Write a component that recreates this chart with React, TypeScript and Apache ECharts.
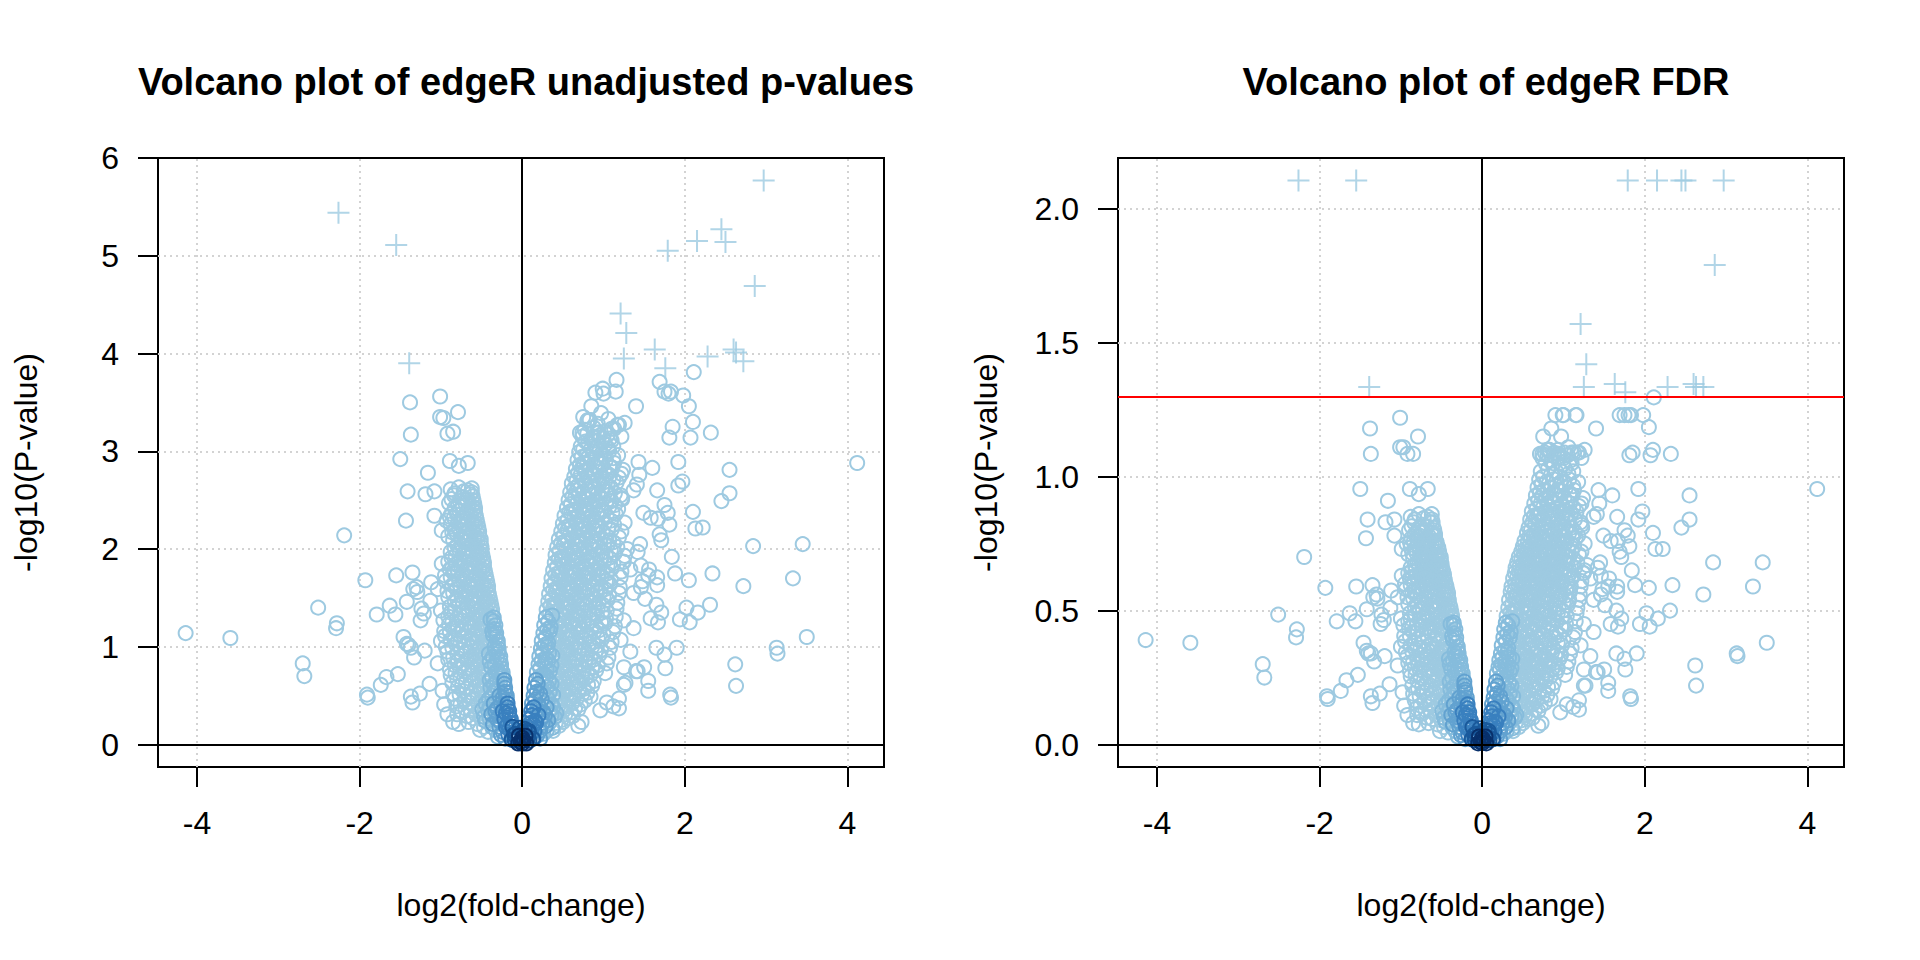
import React, { useEffect, useRef } from 'react';
import * as echarts from 'echarts';

// every gene is [log2 fold-change, -log10(p-value), -log10(FDR)]
type Gene = [number, number, number];

const xTicks = [-4, -2, 0, 2, 4];
const pTicks = [0, 1, 2, 3, 4, 5, 6];
const fdrTicks = [0, 0.5, 1, 1.5, 2];
const fdrCutoff = 1.3; // -log10(0.05)

// genes with FDR < 0.05, drawn as crosses
const sigGenes: Gene[] = [
  [-2.26, 5.44, 2.106], [-1.55, 5.11, 2.106], [-1.39, 3.9, 1.335], [2.97, 5.77, 2.106],
  [2.45, 5.27, 2.106], [2.5, 5.14, 2.106], [2.15, 5.15, 2.106], [1.79, 5.05, 2.106],
  [2.86, 4.69, 1.79], [1.21, 4.41, 1.57], [1.28, 4.21, 1.42], [1.25, 3.95, 1.335],
  [1.63, 4.04, 1.346], [1.76, 3.85, 1.315], [2.28, 3.97, 1.335], [2.6, 4.04, 1.346],
  [2.63, 4.01, 1.335], [2.72, 3.92, 1.335],
];

// scattered genes away from the two dense clouds
const outlierGenes: Gene[] = [
  [-1.38, 3.5, 1.18], [-1.01, 3.56, 1.22], [-1.01, 3.35, 1.11], [-0.97, 3.34, 1.11], [-0.79, 3.4, 1.15],
  [-0.92, 3.18, 1.085], [-0.85, 3.2, 1.085], [-1.37, 3.17, 1.085], [-1.5, 2.92, 0.954], [-0.89, 2.9, 0.954],
  [-0.78, 2.85, 0.935], [-0.67, 2.88, 0.954], [-1.16, 2.78, 0.91], [-1.41, 2.59, 0.84], [-1.19, 2.56, 0.83],
  [-1.08, 2.59, 0.84], [-1.43, 2.29, 0.77], [-1.08, 2.34, 0.78], [-0.99, 2.19, 0.73], [-2.19, 2.14, 0.7],
  [-1.93, 1.68, 0.585], [-1.55, 1.73, 0.59], [-1.35, 1.76, 0.595], [-0.99, 1.85, 0.63], [-2.51, 1.4, 0.485],
  [-2.28, 1.24, 0.43], [-2.29, 1.19, 0.4], [-1.79, 1.33, 0.46], [-1.63, 1.42, 0.49], [-1.56, 1.33, 0.46],
  [-4.14, 1.14, 0.39], [-3.59, 1.09, 0.38], [-2.7, 0.83, 0.3], [-2.68, 0.7, 0.25], [-1.46, 1.1, 0.38],
  [-1.4, 1.02, 0.34], [-1.33, 0.89, 0.31], [-1.2, 0.96, 0.33], [-1.25, 1.27, 0.45], [-1.34, 1.59, 0.55],
  [-1.91, 0.51, 0.18], [-1.9, 0.48, 0.17], [-1.74, 0.61, 0.2], [-1.67, 0.69, 0.24], [-1.53, 0.72, 0.26],
  [-1.37, 0.49, 0.18], [-1.35, 0.43, 0.155], [-1.26, 0.52, 0.19], [-1.14, 0.62, 0.225], [-1.13, 1.47, 0.51],
  [-1.0, 1.37, 0.47], [-1.12, 1.66, 0.575], [-1.04, 1.59, 0.55], [-1.29, 1.56, 0.545], [-1.3, 1.61, 0.56],
  [-1.24, 1.39, 0.485], [-1.21, 1.34, 0.465], [-1.42, 1.46, 0.505], [-1.42, 1.03, 0.35], [-1.37, 0.99, 0.34],
  [-1.04, 0.83, 0.295], [-0.96, 0.41, 0.145], [-0.92, 0.31, 0.11], [-0.85, 0.23, 0.08], [-0.98, 0.55, 0.195],
  [-1.0, 1.06, 0.365],
  [2.11, 3.81, 1.296], [1.16, 3.73, 1.23], [0.99, 3.64, 1.23], [1.15, 3.61, 1.23], [0.85, 3.46, 1.18],
  [0.97, 3.39, 1.15], [1.4, 3.46, 1.18], [1.69, 3.71, 1.23], [1.75, 3.61, 1.23], [1.8, 3.59, 1.23],
  [1.83, 3.61, 1.23], [1.98, 3.57, 1.23], [2.05, 3.46, 1.185], [2.1, 3.3, 1.1], [2.07, 3.14, 1.08],
  [2.32, 3.19, 1.085], [1.85, 3.25, 1.09], [1.81, 3.14, 1.08], [0.83, 3.32, 1.1], [0.74, 3.19, 1.085],
  [1.1, 3.23, 1.09], [1.17, 3.27, 1.09], [1.26, 3.29, 1.1], [4.12, 2.88, 0.954], [2.55, 2.81, 0.93],
  [2.55, 2.57, 0.84], [2.45, 2.49, 0.81], [1.92, 2.89, 0.954], [1.97, 2.69, 0.87], [1.92, 2.65, 0.84],
  [1.6, 2.83, 0.93], [1.43, 2.89, 0.95], [1.44, 2.76, 0.9], [1.22, 2.77, 0.9], [1.66, 2.6, 0.85],
  [1.41, 2.66, 0.86], [1.37, 2.6, 0.85], [1.21, 2.55, 0.83], [1.23, 2.51, 0.81], [2.1, 2.38, 0.79],
  [2.13, 2.21, 0.73], [2.22, 2.22, 0.73], [1.75, 2.45, 0.8], [1.79, 2.37, 0.78], [1.81, 2.25, 0.74],
  [1.49, 2.37, 0.78], [1.58, 2.32, 0.76], [1.67, 2.31, 0.76], [2.84, 2.03, 0.68], [3.45, 2.05, 0.68],
  [3.33, 1.7, 0.59], [2.72, 1.62, 0.56], [2.34, 1.75, 0.595], [2.05, 1.68, 0.585], [1.88, 1.75, 0.595],
  [1.84, 1.92, 0.65], [2.31, 1.43, 0.5], [2.16, 1.35, 0.47], [2.06, 1.25, 0.44], [2.02, 1.4, 0.49],
  [1.94, 1.28, 0.45], [3.5, 1.1, 0.38], [3.13, 0.99, 0.34], [3.14, 0.93, 0.33], [2.62, 0.82, 0.295],
  [2.63, 0.6, 0.22], [1.9, 0.99, 0.34], [1.75, 0.92, 0.32], [1.76, 0.78, 0.28], [1.82, 0.51, 0.18],
  [1.83, 0.48, 0.17], [1.55, 0.65, 0.23], [1.55, 0.55, 0.2], [1.71, 1.35, 0.47], [1.67, 1.25, 0.44],
  [1.58, 1.29, 0.45], [1.48, 1.67, 0.58], [1.66, 1.63, 0.57], [1.66, 1.71, 0.59], [1.55, 1.73, 0.59],
  [1.71, 2.09, 0.7], [1.69, 2.15, 0.72], [1.45, 2.05, 0.68], [1.42, 1.97, 0.66], [1.12, 0.39, 0.14],
  [1.19, 0.37, 0.13], [1.42, 0.75, 0.27], [1.27, 0.63, 0.22], [0.73, 0.23, 0.08], [0.69, 0.19, 0.07],
  [1.25, 1.87, 0.64], [1.33, 1.79, 0.62], [1.46, 1.83, 0.63], [1.56, 1.79, 0.62], [1.37, 1.55, 0.54],
  [1.46, 1.61, 0.56], [1.51, 1.49, 0.52], [1.65, 1.43, 0.5], [1.25, 1.27, 0.45], [1.37, 1.19, 0.42],
  [1.21, 1.07, 0.37], [1.33, 0.95, 0.33], [1.25, 0.79, 0.28], [1.4, 0.75, 0.27], [1.25, 0.61, 0.22],
  [1.19, 0.47, 0.165], [1.04, 0.43, 0.15], [0.96, 0.35, 0.12], [1.5, 0.79, 0.28], [1.65, 0.99, 0.34],
  [0.9, 3.6, 1.23], [1.0, 3.59, 1.23], [0.75, 3.35, 1.15], [0.81, 3.32, 1.1], [0.71, 3.19, 1.085],
  [0.88, 3.14, 1.08], [0.94, 3.19, 1.085], [1.0, 3.13, 1.07],
];

// body of the cloud of down-regulated genes (low density)
const leftCloud: Gene[] = [
  [-0.62, 2.62, 0.86], [-0.67, 2.6, 0.85], [-0.78, 2.63, 0.86], [-0.88, 2.61, 0.85],
  [-0.61, 2.54, 0.83], [-0.64, 2.56, 0.83], [-0.73, 2.53, 0.82], [-0.84, 2.55, 0.83],
  [-0.59, 2.46, 0.8], [-0.62, 2.44, 0.79], [-0.7, 2.47, 0.8], [-0.79, 2.45, 0.8], [-0.9, 2.47, 0.8],
  [-0.58, 2.38, 0.78], [-0.61, 2.4, 0.78], [-0.69, 2.37, 0.77], [-0.77, 2.39, 0.78], [-0.87, 2.36, 0.77],
  [-0.56, 2.3, 0.755], [-0.59, 2.28, 0.75], [-0.67, 2.31, 0.76], [-0.75, 2.29, 0.75], [-0.84, 2.32, 0.76], [-0.93, 2.29, 0.75],
  [-0.54, 2.22, 0.735], [-0.58, 2.24, 0.74], [-0.66, 2.21, 0.73], [-0.74, 2.23, 0.74], [-0.83, 2.2, 0.73],
  [-0.53, 2.14, 0.71], [-0.56, 2.12, 0.705], [-0.64, 2.15, 0.715], [-0.72, 2.13, 0.71], [-0.81, 2.16, 0.715], [-0.91, 2.13, 0.71],
  [-0.51, 2.06, 0.69], [-0.55, 2.08, 0.69], [-0.63, 2.05, 0.685], [-0.71, 2.07, 0.69], [-0.8, 2.04, 0.68],
  [-0.5, 1.98, 0.665], [-0.53, 1.96, 0.66], [-0.61, 1.99, 0.67], [-0.69, 1.97, 0.66], [-0.78, 2.0, 0.67], [-0.88, 1.97, 0.66],
  [-0.48, 1.9, 0.645], [-0.52, 1.92, 0.65], [-0.6, 1.89, 0.64], [-0.68, 1.91, 0.645], [-0.77, 1.88, 0.64], [-0.87, 1.91, 0.645],
  [-0.47, 1.82, 0.625], [-0.5, 1.8, 0.62], [-0.58, 1.83, 0.63], [-0.67, 1.81, 0.625], [-0.76, 1.84, 0.63], [-0.86, 1.81, 0.625],
  [-0.45, 1.74, 0.6], [-0.49, 1.76, 0.61], [-0.57, 1.73, 0.6], [-0.65, 1.75, 0.605], [-0.74, 1.72, 0.6], [-0.84, 1.75, 0.605], [-0.95, 1.73, 0.6],
  [-0.43, 1.66, 0.575], [-0.47, 1.64, 0.57], [-0.55, 1.67, 0.58], [-0.64, 1.65, 0.575], [-0.73, 1.68, 0.58], [-0.83, 1.65, 0.575], [-0.94, 1.67, 0.58],
  [-0.42, 1.58, 0.55], [-0.45, 1.6, 0.56], [-0.54, 1.57, 0.55], [-0.62, 1.59, 0.555], [-0.71, 1.56, 0.545], [-0.81, 1.59, 0.555], [-0.92, 1.57, 0.55],
  [-0.4, 1.5, 0.52], [-0.44, 1.48, 0.515], [-0.52, 1.51, 0.525], [-0.61, 1.49, 0.52], [-0.7, 1.52, 0.525], [-0.8, 1.49, 0.52], [-0.91, 1.51, 0.525],
  [-0.38, 1.42, 0.495], [-0.42, 1.44, 0.5], [-0.51, 1.41, 0.49], [-0.59, 1.43, 0.5], [-0.68, 1.4, 0.49], [-0.78, 1.43, 0.5], [-0.89, 1.41, 0.49],
  [-0.37, 1.34, 0.47], [-0.41, 1.32, 0.46], [-0.49, 1.35, 0.47], [-0.58, 1.33, 0.465], [-0.67, 1.36, 0.475], [-0.77, 1.33, 0.465], [-0.88, 1.35, 0.47],
  [-0.48, 1.25, 0.44], [-0.56, 1.27, 0.445], [-0.65, 1.24, 0.435], [-0.75, 1.27, 0.445], [-0.86, 1.25, 0.44], [-0.97, 1.27, 0.445],
  [-0.46, 1.19, 0.42], [-0.55, 1.17, 0.41], [-0.64, 1.2, 0.42], [-0.74, 1.17, 0.41], [-0.85, 1.19, 0.42], [-0.96, 1.16, 0.405],
  [-0.44, 1.09, 0.38], [-0.53, 1.11, 0.385], [-0.62, 1.08, 0.375], [-0.72, 1.11, 0.385], [-0.83, 1.09, 0.38], [-0.95, 1.11, 0.385],
  [-0.43, 1.03, 0.355], [-0.52, 1.01, 0.35], [-0.61, 1.04, 0.36], [-0.71, 1.01, 0.35], [-0.82, 1.03, 0.355], [-0.94, 1.0, 0.345],
  [-0.5, 0.95, 0.33], [-0.59, 0.92, 0.32], [-0.69, 0.95, 0.33], [-0.8, 0.93, 0.32], [-0.92, 0.95, 0.33],
  [-0.49, 0.87, 0.305], [-0.58, 0.84, 0.295], [-0.68, 0.87, 0.305], [-0.79, 0.85, 0.3], [-0.91, 0.87, 0.305],
  [-0.47, 0.77, 0.275], [-0.56, 0.8, 0.285], [-0.66, 0.77, 0.275], [-0.77, 0.79, 0.28], [-0.89, 0.77, 0.275],
  [-0.46, 0.71, 0.255], [-0.55, 0.68, 0.245], [-0.65, 0.71, 0.255], [-0.76, 0.69, 0.25], [-0.88, 0.71, 0.255],
  [-0.44, 0.63, 0.22], [-0.53, 0.6, 0.21], [-0.63, 0.63, 0.22], [-0.74, 0.61, 0.215], [-0.86, 0.63, 0.22],
  [-0.43, 0.53, 0.19], [-0.52, 0.56, 0.2], [-0.62, 0.53, 0.19], [-0.73, 0.55, 0.195], [-0.85, 0.52, 0.19],
  [-0.5, 0.44, 0.155], [-0.6, 0.47, 0.165], [-0.71, 0.45, 0.16], [-0.83, 0.47, 0.165],
  [-0.59, 0.39, 0.135], [-0.7, 0.37, 0.13], [-0.81, 0.39, 0.135],
  [-0.57, 0.31, 0.11], [-0.68, 0.29, 0.1], [-0.8, 0.31, 0.11],
  [-0.55, 0.21, 0.075], [-0.66, 0.23, 0.08], [-0.78, 0.21, 0.075],
  [-0.42, 0.13, 0.045], [-0.52, 0.15, 0.05],
];

// denser middle of the down-regulated cloud
const leftCloudInner: Gene[] = [
  [-0.62, 2.58, 0.84], [-0.72, 2.59, 0.845], [-0.83, 2.57, 0.84],
  [-0.6, 2.5, 0.81], [-0.68, 2.51, 0.815], [-0.77, 2.49, 0.81], [-0.87, 2.51, 0.815],
  [-0.58, 2.42, 0.785], [-0.66, 2.41, 0.78], [-0.74, 2.43, 0.79], [-0.83, 2.42, 0.785],
  [-0.57, 2.34, 0.76], [-0.64, 2.35, 0.765], [-0.72, 2.33, 0.755], [-0.8, 2.35, 0.765], [-0.89, 2.33, 0.755],
  [-0.55, 2.26, 0.74], [-0.62, 2.27, 0.745], [-0.7, 2.25, 0.735], [-0.79, 2.27, 0.745], [-0.88, 2.25, 0.735],
  [-0.53, 2.18, 0.72], [-0.61, 2.19, 0.725], [-0.69, 2.17, 0.715], [-0.77, 2.19, 0.725], [-0.86, 2.17, 0.715],
  [-0.51, 2.1, 0.7], [-0.59, 2.11, 0.705], [-0.67, 2.09, 0.695], [-0.76, 2.11, 0.705], [-0.85, 2.09, 0.695],
  [-0.5, 2.02, 0.675], [-0.58, 2.03, 0.68], [-0.66, 2.01, 0.67], [-0.74, 2.03, 0.68], [-0.83, 2.01, 0.67],
  [-0.49, 1.94, 0.655], [-0.56, 1.95, 0.66], [-0.64, 1.93, 0.65], [-0.73, 1.95, 0.66], [-0.82, 1.93, 0.65],
  [-0.47, 1.86, 0.635], [-0.55, 1.87, 0.64], [-0.63, 1.85, 0.63], [-0.72, 1.87, 0.64], [-0.81, 1.85, 0.63], [-0.91, 1.87, 0.64],
  [-0.46, 1.78, 0.615], [-0.53, 1.79, 0.62], [-0.61, 1.77, 0.61], [-0.7, 1.79, 0.62], [-0.79, 1.77, 0.61], [-0.89, 1.79, 0.62],
  [-0.44, 1.7, 0.59], [-0.52, 1.71, 0.595], [-0.6, 1.69, 0.585], [-0.69, 1.71, 0.595], [-0.78, 1.69, 0.585], [-0.88, 1.71, 0.595],
  [-0.42, 1.62, 0.565], [-0.5, 1.63, 0.57], [-0.58, 1.61, 0.56], [-0.67, 1.63, 0.57], [-0.76, 1.61, 0.56], [-0.86, 1.63, 0.57],
  [-0.41, 1.54, 0.54], [-0.48, 1.55, 0.545], [-0.57, 1.53, 0.535], [-0.66, 1.55, 0.545], [-0.75, 1.53, 0.535], [-0.85, 1.55, 0.545],
  [-0.39, 1.46, 0.51], [-0.47, 1.47, 0.515], [-0.55, 1.45, 0.505], [-0.64, 1.47, 0.515], [-0.73, 1.45, 0.505], [-0.83, 1.47, 0.515],
  [-0.37, 1.38, 0.48], [-0.45, 1.39, 0.485], [-0.54, 1.37, 0.475], [-0.62, 1.39, 0.485], [-0.72, 1.37, 0.475], [-0.82, 1.39, 0.485],
  [-0.44, 1.3, 0.455], [-0.52, 1.31, 0.46], [-0.61, 1.29, 0.45], [-0.7, 1.31, 0.46], [-0.8, 1.29, 0.45], [-0.91, 1.31, 0.46],
  [-0.42, 1.22, 0.43], [-0.5, 1.23, 0.435], [-0.59, 1.21, 0.425], [-0.69, 1.23, 0.435], [-0.79, 1.21, 0.425], [-0.9, 1.23, 0.435],
  [-0.4, 1.14, 0.4], [-0.49, 1.15, 0.405], [-0.58, 1.13, 0.395], [-0.67, 1.15, 0.405], [-0.78, 1.13, 0.395], [-0.89, 1.15, 0.405],
  [-0.39, 1.06, 0.365], [-0.47, 1.07, 0.37], [-0.56, 1.05, 0.36], [-0.66, 1.07, 0.37], [-0.76, 1.05, 0.36], [-0.88, 1.07, 0.37],
  [-0.37, 0.98, 0.34], [-0.46, 0.99, 0.345], [-0.55, 0.97, 0.335], [-0.64, 0.99, 0.345], [-0.75, 0.97, 0.335], [-0.86, 0.99, 0.345],
  [-0.45, 0.9, 0.315], [-0.54, 0.91, 0.32], [-0.63, 0.89, 0.31], [-0.74, 0.91, 0.32], [-0.85, 0.89, 0.31],
  [-0.43, 0.82, 0.29], [-0.52, 0.83, 0.295], [-0.62, 0.81, 0.285], [-0.72, 0.83, 0.295], [-0.83, 0.81, 0.285],
  [-0.42, 0.74, 0.265], [-0.51, 0.75, 0.27], [-0.6, 0.73, 0.26], [-0.71, 0.75, 0.27], [-0.82, 0.73, 0.26],
  [-0.49, 0.66, 0.235], [-0.58, 0.67, 0.24], [-0.69, 0.65, 0.23], [-0.8, 0.67, 0.24],
  [-0.48, 0.58, 0.205], [-0.57, 0.59, 0.21], [-0.68, 0.57, 0.2], [-0.79, 0.59, 0.21],
  [-0.46, 0.5, 0.175], [-0.55, 0.51, 0.18], [-0.66, 0.49, 0.17], [-0.77, 0.51, 0.18],
  [-0.54, 0.42, 0.15], [-0.65, 0.43, 0.155], [-0.76, 0.41, 0.145],
  [-0.52, 0.34, 0.12], [-0.63, 0.35, 0.125], [-0.74, 0.33, 0.115],
  [-0.5, 0.26, 0.09], [-0.61, 0.27, 0.095], [-0.47, 0.18, 0.065],
];

// body of the cloud of up-regulated genes (low density)
const rightCloud: Gene[] = [
  [0.8, 3.31, 1.1], [0.93, 3.28, 1.1], [1.06, 3.33, 1.11], [1.19, 3.27, 1.09],
  [0.77, 3.22, 1.09], [0.88, 3.24, 1.09], [1.01, 3.2, 1.09], [1.13, 3.23, 1.09],
  [0.74, 3.15, 1.07], [0.85, 3.12, 1.06], [0.95, 3.16, 1.07], [1.08, 3.13, 1.06], [1.22, 3.15, 1.07],
  [0.72, 3.05, 1.02], [0.81, 3.08, 1.03], [0.91, 3.04, 1.02], [1.02, 3.07, 1.03], [1.12, 3.05, 1.02],
  [0.7, 2.99, 0.99], [0.79, 2.96, 0.98], [0.88, 3.0, 0.99], [0.97, 2.97, 0.98], [1.07, 3.0, 0.99], [1.18, 2.96, 0.98],
  [0.68, 2.91, 0.96], [0.76, 2.88, 0.95], [0.85, 2.92, 0.96], [0.94, 2.89, 0.95], [1.03, 2.91, 0.96], [1.13, 2.88, 0.95],
  [0.66, 2.82, 0.93], [0.74, 2.84, 0.93], [0.83, 2.81, 0.92], [0.92, 2.83, 0.93], [1.01, 2.8, 0.92], [1.11, 2.83, 0.93], [1.24, 2.81, 0.92],
  [0.64, 2.74, 0.9], [0.72, 2.76, 0.9], [0.8, 2.73, 0.89], [0.89, 2.75, 0.9], [0.98, 2.72, 0.89], [1.08, 2.75, 0.9], [1.19, 2.73, 0.89],
  [0.61, 2.67, 0.87], [0.69, 2.65, 0.86], [0.78, 2.68, 0.87], [0.86, 2.64, 0.86], [0.95, 2.67, 0.87], [1.05, 2.65, 0.86], [1.16, 2.68, 0.87],
  [0.59, 2.58, 0.84], [0.67, 2.6, 0.85], [0.75, 2.57, 0.84], [0.84, 2.59, 0.85], [0.93, 2.56, 0.83], [1.03, 2.59, 0.85], [1.14, 2.57, 0.84],
  [0.57, 2.5, 0.81], [0.65, 2.52, 0.82], [0.73, 2.49, 0.81], [0.81, 2.51, 0.81], [0.9, 2.48, 0.8], [0.99, 2.51, 0.81], [1.1, 2.49, 0.81], [1.22, 2.52, 0.82],
  [0.55, 2.42, 0.79], [0.63, 2.4, 0.78], [0.71, 2.43, 0.79], [0.79, 2.41, 0.78], [0.88, 2.44, 0.79], [0.97, 2.4, 0.78], [1.07, 2.43, 0.79], [1.18, 2.41, 0.78],
  [0.52, 2.34, 0.76], [0.6, 2.36, 0.77], [0.68, 2.33, 0.76], [0.77, 2.35, 0.76], [0.85, 2.32, 0.76], [0.94, 2.35, 0.76], [1.04, 2.33, 0.76], [1.15, 2.36, 0.77],
  [0.5, 2.26, 0.74], [0.58, 2.24, 0.74], [0.66, 2.27, 0.75], [0.74, 2.25, 0.74], [0.83, 2.28, 0.75], [0.92, 2.24, 0.74], [1.02, 2.27, 0.75], [1.13, 2.25, 0.74], [1.26, 2.27, 0.75],
  [0.48, 2.18, 0.72], [0.56, 2.2, 0.72], [0.64, 2.17, 0.72], [0.72, 2.19, 0.72], [0.81, 2.16, 0.71], [0.9, 2.19, 0.72], [0.99, 2.17, 0.72], [1.1, 2.2, 0.72], [1.22, 2.18, 0.72],
  [0.45, 2.1, 0.7], [0.53, 2.08, 0.69], [0.62, 2.11, 0.7], [0.7, 2.09, 0.7], [0.79, 2.12, 0.71], [0.88, 2.08, 0.69], [0.97, 2.11, 0.7], [1.07, 2.09, 0.7], [1.19, 2.12, 0.71],
  [0.43, 2.02, 0.68], [0.51, 2.04, 0.68], [0.6, 2.01, 0.67], [0.68, 2.03, 0.68], [0.77, 2.0, 0.67], [0.86, 2.03, 0.68], [0.95, 2.01, 0.67], [1.05, 2.04, 0.68], [1.17, 2.02, 0.68], [1.29, 2.0, 0.67],
  [0.41, 1.94, 0.66], [0.49, 1.92, 0.65], [0.57, 1.95, 0.66], [0.66, 1.93, 0.65], [0.75, 1.96, 0.66], [0.84, 1.92, 0.65], [0.93, 1.95, 0.66], [1.03, 1.93, 0.65], [1.14, 1.96, 0.66], [1.26, 1.93, 0.65],
  [0.4, 1.86, 0.64], [0.48, 1.88, 0.64], [0.56, 1.85, 0.63], [0.64, 1.87, 0.64], [0.73, 1.84, 0.63], [0.82, 1.87, 0.64], [0.91, 1.85, 0.63], [1.01, 1.88, 0.64], [1.12, 1.85, 0.63], [1.24, 1.87, 0.64],
  [0.38, 1.78, 0.62], [0.46, 1.76, 0.61], [0.54, 1.79, 0.62], [0.62, 1.77, 0.61], [0.71, 1.8, 0.62], [0.8, 1.76, 0.61], [0.89, 1.79, 0.62], [0.99, 1.77, 0.61], [1.1, 1.8, 0.62], [1.22, 1.77, 0.61],
  [0.36, 1.7, 0.59], [0.44, 1.72, 0.6], [0.52, 1.69, 0.59], [0.61, 1.71, 0.59], [0.7, 1.68, 0.58], [0.79, 1.71, 0.59], [0.88, 1.69, 0.59], [0.98, 1.72, 0.6], [1.09, 1.69, 0.59], [1.21, 1.71, 0.59],
  [0.35, 1.62, 0.57], [0.43, 1.6, 0.56], [0.51, 1.63, 0.57], [0.59, 1.61, 0.56], [0.68, 1.64, 0.57], [0.77, 1.6, 0.56], [0.87, 1.63, 0.57], [0.97, 1.61, 0.56], [1.08, 1.64, 0.57], [1.2, 1.61, 0.56],
  [0.33, 1.54, 0.54], [0.41, 1.56, 0.55], [0.49, 1.53, 0.54], [0.58, 1.55, 0.54], [0.67, 1.52, 0.53], [0.76, 1.55, 0.54], [0.86, 1.53, 0.54], [0.96, 1.56, 0.55], [1.07, 1.53, 0.54], [1.19, 1.55, 0.54],
  [0.32, 1.46, 0.51], [0.4, 1.44, 0.5], [0.48, 1.47, 0.51], [0.56, 1.45, 0.51], [0.65, 1.48, 0.52], [0.74, 1.44, 0.5], [0.84, 1.47, 0.51], [0.94, 1.45, 0.51], [1.05, 1.48, 0.52], [1.17, 1.45, 0.51],
  [0.3, 1.38, 0.48], [0.38, 1.4, 0.49], [0.46, 1.37, 0.48], [0.55, 1.39, 0.49], [0.64, 1.36, 0.48], [0.73, 1.39, 0.49], [0.83, 1.37, 0.48], [0.93, 1.4, 0.49], [1.04, 1.37, 0.48], [1.16, 1.39, 0.49],
  [0.45, 1.29, 0.45], [0.53, 1.31, 0.46], [0.62, 1.28, 0.45], [0.72, 1.31, 0.46], [0.82, 1.29, 0.45], [0.92, 1.32, 0.46], [1.03, 1.29, 0.45], [1.15, 1.31, 0.46],
  [0.43, 1.23, 0.43], [0.52, 1.21, 0.42], [0.61, 1.24, 0.43], [0.7, 1.2, 0.42], [0.8, 1.23, 0.43], [0.91, 1.21, 0.42], [1.02, 1.24, 0.43], [1.14, 1.21, 0.42],
  [0.42, 1.13, 0.39], [0.5, 1.15, 0.4], [0.59, 1.12, 0.39], [0.69, 1.15, 0.4], [0.79, 1.13, 0.39], [0.89, 1.16, 0.4], [1.0, 1.13, 0.39], [1.12, 1.15, 0.4],
  [0.4, 1.07, 0.37], [0.49, 1.05, 0.36], [0.58, 1.08, 0.37], [0.67, 1.04, 0.36], [0.77, 1.07, 0.37], [0.87, 1.05, 0.36], [0.98, 1.08, 0.37], [1.1, 1.05, 0.36],
  [0.39, 0.97, 0.335], [0.47, 0.99, 0.34], [0.56, 0.96, 0.33], [0.66, 0.99, 0.34], [0.76, 0.97, 0.335], [0.86, 1.0, 0.345], [0.97, 0.97, 0.335], [1.08, 0.99, 0.34],
  [0.46, 0.89, 0.31], [0.55, 0.92, 0.32], [0.64, 0.88, 0.31], [0.74, 0.91, 0.32], [0.84, 0.89, 0.31], [0.95, 0.92, 0.32], [1.06, 0.89, 0.31],
  [0.44, 0.83, 0.29], [0.53, 0.8, 0.285], [0.62, 0.83, 0.29], [0.72, 0.81, 0.285], [0.82, 0.84, 0.295], [0.93, 0.81, 0.285], [1.04, 0.83, 0.29],
  [0.43, 0.73, 0.26], [0.52, 0.76, 0.27], [0.61, 0.72, 0.26], [0.7, 0.75, 0.27], [0.8, 0.73, 0.26], [0.91, 0.76, 0.27], [1.02, 0.73, 0.26],
  [0.41, 0.67, 0.235], [0.5, 0.64, 0.225], [0.59, 0.67, 0.235], [0.68, 0.65, 0.23], [0.78, 0.68, 0.24], [0.88, 0.65, 0.23],
  [0.4, 0.57, 0.2], [0.48, 0.6, 0.21], [0.57, 0.56, 0.2], [0.66, 0.59, 0.21], [0.76, 0.57, 0.2], [0.86, 0.6, 0.21],
  [0.47, 0.48, 0.17], [0.55, 0.51, 0.18], [0.64, 0.49, 0.17], [0.74, 0.52, 0.18], [0.84, 0.49, 0.17],
  [0.45, 0.44, 0.155], [0.53, 0.4, 0.14], [0.62, 0.43, 0.15], [0.72, 0.41, 0.145],
  [0.51, 0.35, 0.12], [0.6, 0.33, 0.115], [0.69, 0.36, 0.125],
  [0.48, 0.25, 0.09], [0.57, 0.27, 0.095], [0.45, 0.19, 0.065],
];

// denser middle of the up-regulated cloud
const rightCloudInner: Gene[] = [
  [0.8, 3.18, 1.08], [0.92, 3.19, 1.085], [1.05, 3.17, 1.08],
  [0.78, 3.1, 1.05], [0.88, 3.11, 1.05], [0.99, 3.09, 1.045], [1.1, 3.11, 1.05],
  [0.75, 3.02, 1.0], [0.85, 3.03, 1.01], [0.95, 3.01, 1.0], [1.06, 3.03, 1.01],
  [0.73, 2.94, 0.97], [0.82, 2.95, 0.975], [0.91, 2.93, 0.965], [1.01, 2.95, 0.975], [1.12, 2.93, 0.965],
  [0.71, 2.86, 0.94], [0.8, 2.87, 0.945], [0.89, 2.85, 0.935], [0.98, 2.87, 0.945], [1.07, 2.85, 0.935],
  [0.69, 2.78, 0.91], [0.78, 2.79, 0.915], [0.87, 2.77, 0.905], [0.96, 2.79, 0.915], [1.05, 2.77, 0.905],
  [0.67, 2.7, 0.88], [0.75, 2.71, 0.885], [0.84, 2.69, 0.875], [0.93, 2.71, 0.885], [1.02, 2.69, 0.875], [1.12, 2.71, 0.885],
  [0.64, 2.62, 0.855], [0.72, 2.63, 0.86], [0.81, 2.61, 0.85], [0.9, 2.63, 0.86], [0.99, 2.61, 0.85], [1.09, 2.63, 0.86],
  [0.62, 2.54, 0.83], [0.7, 2.55, 0.835], [0.78, 2.53, 0.825], [0.87, 2.55, 0.835], [0.96, 2.53, 0.825], [1.06, 2.55, 0.835],
  [0.6, 2.46, 0.8], [0.68, 2.47, 0.805], [0.76, 2.45, 0.795], [0.85, 2.47, 0.805], [0.94, 2.45, 0.795], [1.03, 2.47, 0.805], [1.14, 2.45, 0.795],
  [0.58, 2.38, 0.775], [0.66, 2.39, 0.78], [0.74, 2.37, 0.77], [0.83, 2.39, 0.78], [0.92, 2.37, 0.77], [1.01, 2.39, 0.78], [1.11, 2.37, 0.77],
  [0.56, 2.3, 0.755], [0.64, 2.31, 0.76], [0.72, 2.29, 0.75], [0.81, 2.31, 0.76], [0.9, 2.29, 0.75], [0.99, 2.31, 0.76], [1.09, 2.29, 0.75],
  [0.53, 2.22, 0.73], [0.61, 2.23, 0.735], [0.7, 2.21, 0.725], [0.78, 2.23, 0.735], [0.87, 2.21, 0.725], [0.96, 2.23, 0.735], [1.06, 2.21, 0.725],
  [0.51, 2.14, 0.71], [0.59, 2.15, 0.715], [0.68, 2.13, 0.705], [0.76, 2.15, 0.715], [0.85, 2.13, 0.705], [0.94, 2.15, 0.715], [1.04, 2.13, 0.705],
  [0.48, 2.06, 0.69], [0.56, 2.07, 0.695], [0.65, 2.05, 0.685], [0.74, 2.07, 0.695], [0.83, 2.05, 0.685], [0.92, 2.07, 0.695], [1.01, 2.05, 0.685], [1.12, 2.07, 0.695],
  [0.46, 1.98, 0.665], [0.54, 1.99, 0.67], [0.63, 1.97, 0.66], [0.71, 1.99, 0.67], [0.8, 1.97, 0.66], [0.89, 1.99, 0.67], [0.99, 1.97, 0.66], [1.09, 1.99, 0.67],
  [0.45, 1.9, 0.645], [0.53, 1.91, 0.65], [0.61, 1.89, 0.64], [0.7, 1.91, 0.65], [0.79, 1.89, 0.64], [0.88, 1.91, 0.65], [0.97, 1.89, 0.64], [1.07, 1.91, 0.65],
  [0.43, 1.82, 0.625], [0.51, 1.83, 0.63], [0.59, 1.81, 0.62], [0.68, 1.83, 0.63], [0.77, 1.81, 0.62], [0.86, 1.83, 0.63], [0.95, 1.81, 0.62], [1.05, 1.83, 0.63],
  [0.41, 1.74, 0.6], [0.49, 1.75, 0.605], [0.57, 1.73, 0.595], [0.66, 1.75, 0.605], [0.75, 1.73, 0.595], [0.84, 1.75, 0.605], [0.94, 1.73, 0.595], [1.04, 1.75, 0.605],
  [0.4, 1.66, 0.575], [0.48, 1.67, 0.58], [0.56, 1.65, 0.57], [0.64, 1.67, 0.58], [0.73, 1.65, 0.57], [0.83, 1.67, 0.58], [0.93, 1.65, 0.57], [1.03, 1.67, 0.58],
  [0.38, 1.58, 0.55], [0.46, 1.59, 0.555], [0.54, 1.57, 0.545], [0.63, 1.59, 0.555], [0.72, 1.57, 0.545], [0.82, 1.59, 0.555], [0.92, 1.57, 0.545], [1.02, 1.59, 0.555],
  [0.37, 1.5, 0.525], [0.45, 1.51, 0.53], [0.53, 1.49, 0.52], [0.61, 1.51, 0.53], [0.71, 1.49, 0.52], [0.8, 1.51, 0.53], [0.9, 1.49, 0.52], [1.0, 1.51, 0.53],
  [0.35, 1.42, 0.495], [0.43, 1.43, 0.5], [0.51, 1.41, 0.49], [0.6, 1.43, 0.5], [0.69, 1.41, 0.49], [0.79, 1.43, 0.5], [0.89, 1.41, 0.49], [0.99, 1.43, 0.5],
  [0.34, 1.34, 0.47], [0.42, 1.35, 0.475], [0.5, 1.33, 0.465], [0.59, 1.35, 0.475], [0.68, 1.33, 0.465], [0.78, 1.35, 0.475], [0.88, 1.33, 0.465], [0.98, 1.35, 0.475],
  [0.41, 1.26, 0.445], [0.49, 1.27, 0.45], [0.58, 1.25, 0.44], [0.67, 1.27, 0.45], [0.76, 1.25, 0.44], [0.86, 1.27, 0.45], [0.97, 1.25, 0.44],
  [0.39, 1.18, 0.415], [0.47, 1.19, 0.42], [0.56, 1.17, 0.41], [0.65, 1.19, 0.42], [0.75, 1.17, 0.41], [0.85, 1.19, 0.42], [0.95, 1.17, 0.41],
  [0.37, 1.1, 0.385], [0.45, 1.11, 0.39], [0.54, 1.09, 0.38], [0.63, 1.11, 0.39], [0.73, 1.09, 0.38], [0.83, 1.11, 0.39], [0.93, 1.09, 0.38],
  [0.36, 1.02, 0.35], [0.44, 1.03, 0.355], [0.53, 1.01, 0.345], [0.62, 1.03, 0.355], [0.72, 1.01, 0.345], [0.82, 1.03, 0.355], [0.92, 1.01, 0.345],
  [0.42, 0.94, 0.325], [0.51, 0.95, 0.33], [0.6, 0.93, 0.32], [0.7, 0.95, 0.33], [0.8, 0.93, 0.32], [0.9, 0.95, 0.33],
  [0.4, 0.86, 0.3], [0.49, 0.87, 0.305], [0.58, 0.85, 0.295], [0.68, 0.87, 0.305], [0.78, 0.85, 0.295], [0.88, 0.87, 0.305],
  [0.39, 0.78, 0.28], [0.48, 0.79, 0.285], [0.57, 0.77, 0.275], [0.66, 0.79, 0.285], [0.76, 0.77, 0.275], [0.86, 0.79, 0.285],
  [0.38, 0.7, 0.25], [0.47, 0.71, 0.255], [0.56, 0.69, 0.245], [0.65, 0.71, 0.255], [0.74, 0.69, 0.245], [0.84, 0.71, 0.255],
  [0.44, 0.62, 0.22], [0.53, 0.63, 0.225], [0.62, 0.61, 0.215], [0.71, 0.63, 0.225], [0.81, 0.61, 0.215],
  [0.43, 0.54, 0.19], [0.51, 0.55, 0.195], [0.6, 0.53, 0.185], [0.7, 0.55, 0.195], [0.8, 0.53, 0.185],
  [0.41, 0.46, 0.16], [0.49, 0.47, 0.165], [0.58, 0.45, 0.155], [0.67, 0.47, 0.165], [0.77, 0.45, 0.155],
  [0.47, 0.38, 0.135], [0.56, 0.39, 0.14], [0.65, 0.37, 0.13],
  [0.44, 0.3, 0.105], [0.53, 0.31, 0.11], [0.62, 0.29, 0.1],
  [0.41, 0.22, 0.08], [0.5, 0.23, 0.08], [0.38, 0.14, 0.05],
];

// genes along the inner edges of the V, by increasing point density
const midBand: Gene[] = [
  [0.29, 1.3, 0.455], [0.37, 1.32, 0.46], [0.27, 1.22, 0.43], [0.35, 1.2, 0.42], [0.26, 1.14, 0.4], [0.34, 1.16, 0.4],
  [0.24, 1.06, 0.37], [0.32, 1.04, 0.36], [0.23, 0.98, 0.34], [0.31, 1.0, 0.345], [0.21, 0.9, 0.315], [0.29, 0.88, 0.31],
  [0.37, 0.91, 0.32], [0.2, 0.82, 0.29], [0.28, 0.84, 0.295], [0.36, 0.81, 0.285], [0.18, 0.74, 0.265], [0.26, 0.72, 0.26],
  [0.34, 0.75, 0.27], [0.25, 0.68, 0.24], [0.33, 0.65, 0.23], [0.23, 0.56, 0.2], [0.31, 0.59, 0.21], [0.3, 0.49, 0.17],
  [0.38, 0.51, 0.18], [0.28, 0.43, 0.15], [0.36, 0.41, 0.145], [0.34, 0.35, 0.12], [0.42, 0.32, 0.11], [0.4, 0.28, 0.1],
  [0.37, 0.17, 0.06], [0.26, 0.11, 0.04],
  [0.32, 1.26, 0.445], [0.31, 1.18, 0.415], [0.29, 1.1, 0.385], [0.28, 1.02, 0.35], [0.25, 0.94, 0.325], [0.33, 0.94, 0.325],
  [0.24, 0.86, 0.3], [0.32, 0.86, 0.3], [0.22, 0.78, 0.28], [0.3, 0.78, 0.28], [0.22, 0.7, 0.25], [0.3, 0.7, 0.25],
  [0.27, 0.62, 0.22], [0.36, 0.62, 0.22], [0.26, 0.54, 0.19], [0.34, 0.54, 0.19], [0.32, 0.46, 0.16], [0.38, 0.38, 0.135],
  [0.36, 0.3, 0.105], [0.33, 0.22, 0.08], [0.3, 0.14, 0.05],
  [-0.35, 1.26, 0.445], [-0.39, 1.28, 0.45], [-0.34, 1.18, 0.415], [-0.37, 1.16, 0.405], [-0.32, 1.1, 0.38], [-0.36, 1.12, 0.39],
  [-0.3, 1.02, 0.35], [-0.34, 1.0, 0.345], [-0.29, 0.94, 0.325], [-0.33, 0.96, 0.33], [-0.41, 0.93, 0.32], [-0.27, 0.86, 0.3],
  [-0.31, 0.88, 0.31], [-0.4, 0.85, 0.3], [-0.26, 0.78, 0.28], [-0.3, 0.76, 0.275], [-0.38, 0.79, 0.28], [-0.24, 0.7, 0.25],
  [-0.28, 0.72, 0.26], [-0.37, 0.69, 0.25], [-0.27, 0.64, 0.225], [-0.35, 0.61, 0.215], [-0.25, 0.52, 0.19], [-0.34, 0.55, 0.195],
  [-0.32, 0.45, 0.16], [-0.41, 0.47, 0.165], [-0.4, 0.39, 0.135], [-0.49, 0.36, 0.125], [-0.47, 0.28, 0.1], [-0.45, 0.24, 0.085],
  [-0.33, 0.15, 0.05], [-0.3, 0.08, 0.03],
  [-0.35, 1.3, 0.455], [-0.33, 1.22, 0.43], [-0.32, 1.14, 0.4], [-0.3, 1.06, 0.365], [-0.29, 0.98, 0.34], [-0.27, 0.9, 0.315],
  [-0.36, 0.9, 0.315], [-0.26, 0.82, 0.29], [-0.34, 0.82, 0.29], [-0.24, 0.74, 0.265], [-0.33, 0.74, 0.265], [-0.31, 0.66, 0.235],
  [-0.4, 0.66, 0.235], [-0.3, 0.58, 0.205], [-0.39, 0.58, 0.205], [-0.37, 0.5, 0.175], [-0.45, 0.42, 0.15], [-0.42, 0.34, 0.12],
  [-0.4, 0.26, 0.09], [-0.37, 0.18, 0.065],
];

const blueBand: Gene[] = [
  [0.17, 0.66, 0.235], [0.15, 0.58, 0.205], [0.14, 0.5, 0.175], [0.22, 0.52, 0.18], [0.12, 0.42, 0.15], [0.2, 0.4, 0.14],
  [0.18, 0.36, 0.125], [0.26, 0.33, 0.115], [0.24, 0.27, 0.095], [0.32, 0.25, 0.09], [0.21, 0.17, 0.06], [0.29, 0.19, 0.065],
  [0.18, 0.09, 0.03], [0.19, 0.62, 0.22], [0.18, 0.54, 0.19], [0.16, 0.46, 0.16], [0.24, 0.46, 0.16], [0.22, 0.38, 0.135],
  [0.3, 0.38, 0.135], [0.28, 0.3, 0.105], [0.25, 0.22, 0.08], [0.22, 0.14, 0.05], [0.22, 0.06, 0.02],
  [-0.22, 0.62, 0.22], [-0.21, 0.54, 0.195], [-0.19, 0.46, 0.16], [-0.24, 0.48, 0.17], [-0.22, 0.4, 0.14], [-0.31, 0.37, 0.13],
  [-0.29, 0.29, 0.1], [-0.38, 0.31, 0.11], [-0.27, 0.23, 0.08], [-0.36, 0.21, 0.075], [-0.24, 0.13, 0.045], [-0.21, 0.06, 0.02],
  [-0.22, 0.66, 0.235], [-0.21, 0.58, 0.205], [-0.19, 0.5, 0.175], [-0.28, 0.5, 0.175], [-0.26, 0.42, 0.15], [-0.35, 0.42, 0.15],
  [-0.33, 0.34, 0.12], [-0.31, 0.26, 0.09], [-0.28, 0.18, 0.065], [-0.26, 0.1, 0.035],
];

const deepBand: Gene[] = [
  [0.11, 0.34, 0.12], [0.09, 0.26, 0.09], [0.16, 0.24, 0.085], [0.07, 0.18, 0.065], [0.14, 0.2, 0.07], [0.05, 0.1, 0.035],
  [0.11, 0.12, 0.04], [0.14, 0.38, 0.135], [0.12, 0.3, 0.105], [0.2, 0.3, 0.105], [0.1, 0.22, 0.08], [0.17, 0.22, 0.08],
  [0.15, 0.14, 0.05], [0.14, 0.06, 0.02],
  [-0.18, 0.38, 0.135], [-0.16, 0.3, 0.105], [-0.2, 0.32, 0.11], [-0.14, 0.22, 0.08], [-0.18, 0.2, 0.07], [-0.08, 0.14, 0.05],
  [-0.16, 0.16, 0.055], [-0.06, 0.07, 0.025], [-0.13, 0.08, 0.03], [-0.18, 0.42, 0.15], [-0.16, 0.34, 0.12], [-0.24, 0.34, 0.12],
  [-0.14, 0.26, 0.09], [-0.22, 0.26, 0.09], [-0.2, 0.18, 0.065], [-0.17, 0.1, 0.035],
];

const navyGenes: Gene[] = [
  [0.0, 0.13, 0.045], [0.05, 0.06, 0.02], [-0.05, 0.06, 0.02], [0.09, 0.04, 0.015], [-0.09, 0.04, 0.015], [0.03, 0.16, 0.055],
  [-0.03, 0.17, 0.06], [0.08, 0.12, 0.04], [-0.08, 0.11, 0.04], [0.13, 0.06, 0.02], [-0.13, 0.05, 0.02], [0.08, 0.14, 0.05],
  [0.07, 0.06, 0.02], [-0.12, 0.18, 0.065], [-0.1, 0.1, 0.035],
];

const coreGenes: Gene[] = [
  [0.0, 0.01, 0.005], [0.02, 0.04, 0.015], [-0.02, 0.03, 0.01], [0.05, 0.01, 0.004], [-0.05, 0.01, 0.004], [0.0, 0.07, 0.025],
  [0.04, 0.09, 0.03], [-0.04, 0.09, 0.03],
];

const FONT = '"Liberation Sans", Arial, Helvetica, sans-serif';
const PALE = '#9ecae1';

const panels = [
  { title: 'Volcano plot of edgeR unadjusted p-values', left: 158, yMin: -0.23, yMax: 6.0, ticks: pTicks, digits: 0, cutoff: false },
  { title: 'Volcano plot of edgeR FDR', left: 1118, yMin: -0.084, yMax: 2.19, ticks: fdrTicks, digits: 1, cutoff: true },
];

// density colours, light to dark, as in the Blues ramp
const layers: { genes: Gene[]; color: string }[] = [
  { genes: outlierGenes, color: PALE },
  { genes: leftCloud, color: PALE },
  { genes: rightCloud, color: PALE },
  { genes: leftCloudInner, color: PALE },
  { genes: rightCloudInner, color: PALE },
  { genes: midBand, color: '#86bcdc' },
  { genes: blueBand, color: '#62a2d0' },
  { genes: deepBand, color: '#3a80bf' },
  { genes: navyGenes, color: '#1a5a9c' },
  { genes: coreGenes, color: '#08306b' },
];

const pick = (genes: Gene[], k: number) => genes.map((g) => [g[0], g[k + 1]]);

const App: React.FC = () => {
  const chartRef = useRef<HTMLDivElement>(null);

  useEffect(() => {
    if (!chartRef.current) return;
    const chart = echarts.init(chartRef.current, undefined, { renderer: 'svg' });

    const textStyle = { fontSize: 32, fontFamily: FONT, color: '#000' };
    const series: any[] = [];

    panels.forEach((p, k) => {
      layers.forEach((layer, li) => {
        series.push({
          type: 'scatter',
          xAxisIndex: k,
          yAxisIndex: k,
          data: pick(layer.genes, k),
          symbol: 'circle',
          symbolSize: 14,
          silent: true,
          large: false,
          progressive: 0,
          z: 2,
          itemStyle: { color: 'rgba(0,0,0,0)', borderColor: layer.color, borderWidth: 2, opacity: 1 },
          // grid() lines sit under the points and under the box
          markLine: li === 0 ? {
            silent: true,
            symbol: 'none',
            z: 1,
            label: { show: false },
            lineStyle: { color: '#d3d3d3', type: [2, 4], width: 2 },
            data: [
              ...xTicks.map((v) => ({ xAxis: v })),
              ...p.ticks.filter((v) => v < p.yMax - 1e-6).map((v) => ({ yAxis: v })),
            ],
          } : undefined,
        });
      });
      series.push({
        type: 'scatter',
        xAxisIndex: k,
        yAxisIndex: k,
        data: pick(sigGenes, k),
        symbol: 'path://M0,10L20,10M10,0L10,20',
        symbolSize: 22,
        silent: true,
        z: 3,
        itemStyle: { color: 'rgba(0,0,0,0)', borderColor: PALE, borderWidth: 2 },
        markLine: {
          silent: true,
          symbol: 'none',
          z: 6,
          label: { show: false },
          lineStyle: { color: '#000', type: 'solid', width: 2 },
          data: [
            { xAxis: 0 },
            { yAxis: 0 },
            ...(p.cutoff ? [{ yAxis: fdrCutoff, lineStyle: { color: '#ff0000', width: 2, type: 'solid' } }] : []),
          ],
        },
      });
    });

    const option: any = {
      animation: false,
      backgroundColor: '#fff',
      title: panels.map((p) => ({
        text: p.title,
        left: p.left + 363,
        top: 58,
        textAlign: 'center',
        textStyle: { fontSize: 38, fontWeight: 'bold', fontFamily: FONT, color: '#000' },
      })),
      grid: panels.map((p) => ({
        left: p.left,
        top: 158,
        width: 726,
        height: 609,
        show: true,
        borderColor: '#000',
        borderWidth: 2,
        backgroundColor: 'transparent',
      })),
      xAxis: panels.map((p, k) => ({
        gridIndex: k,
        type: 'value',
        min: -4.48,
        max: 4.45,
        axisLine: { show: false, onZero: false },
        splitLine: { show: false },
        axisTick: { show: true, customValues: xTicks, length: 20, lineStyle: { color: '#000', width: 2 } },
        axisLabel: { customValues: xTicks, margin: 40, ...textStyle },
        name: 'log2(fold-change)',
        nameLocation: 'middle',
        nameGap: 122,
        nameTextStyle: textStyle,
      })),
      yAxis: panels.map((p, k) => ({
        gridIndex: k,
        type: 'value',
        min: p.yMin,
        max: p.yMax,
        axisLine: { show: false, onZero: false },
        splitLine: { show: false },
        axisTick: { show: true, customValues: p.ticks, length: 20, lineStyle: { color: '#000', width: 2 } },
        axisLabel: {
          customValues: p.ticks,
          margin: 39,
          formatter: (v: number) => v.toFixed(p.digits),
          ...textStyle,
        },
        name: '-log10(P-value)',
        nameLocation: 'middle',
        nameRotate: 90,
        nameGap: 116,
        nameTextStyle: textStyle,
      })),
      series,
    };

    chart.setOption(option);

    return () => {
      chart.dispose();
    };
  }, []);

  return (
    <div
      ref={chartRef}
      style={{ position: 'fixed', left: 0, top: 0, width: '1920px', height: '960px', background: '#fff' }}
    />
  );
};

export default App;
